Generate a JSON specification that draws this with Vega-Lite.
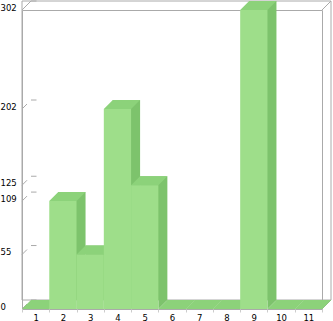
{
  "$schema": "https://vega.github.io/schema/vega-lite/v6.json",
  "width": 300,
  "height": 299,
  "autosize": {"type": "none"},
  "padding": {"left": 22, "top": 10, "right": 11, "bottom": 12},
  "background": "white",
  "config": {
    "view": {"stroke": "#aaaaaa", "strokeWidth": 1},
    "axis": {"labelFont": "DejaVu Sans", "labelFontSize": 8.5, "labelColor": "#000000", "title": null, "grid": false}
  },
  "data": {
    "values": [
      {"cat": 1, "value": 0},
      {"cat": 2, "value": 109},
      {"cat": 3, "value": 55},
      {"cat": 4, "value": 202},
      {"cat": 5, "value": 125},
      {"cat": 6, "value": 0},
      {"cat": 7, "value": 0},
      {"cat": 8, "value": 0},
      {"cat": 9, "value": 302},
      {"cat": 10, "value": 0},
      {"cat": 11, "value": 0}
    ]
  },
  "layer": [
    {
      "transform": [{"filter": "datum.cat == 1"}],
      "mark": {"type": "rect", "fillOpacity": 0, "stroke": "#aaaaaa", "strokeWidth": 1, "xOffset": 9, "x2Offset": 9, "yOffset": -9, "y2Offset": -9},
      "encoding": {
        "y": {"datum": 0, "type": "quantitative", "scale": {"domain": [0, 302], "nice": false, "zero": true},
          "axis": {"values": [0, 55, 109, 125, 202, 302], "ticks": false, "tickSize": 0, "domain": false, "labelAlign": "left", "labelPadding": 22, "labelBaseline": "alphabetic"}},
        "y2": {"datum": 302}
      }
    },
    {
      "transform": [{"filter": "datum.cat == 1"}],
      "mark": {"type": "point", "shape": "M0,0L1.8,-1.8", "size": 100, "filled": false, "stroke": "#aaaaaa", "strokeWidth": 1, "opacity": 1},
      "encoding": {
        "x": {"datum": 1, "type": "ordinal", "bandPosition": 0},
        "y": {"datum": 302, "type": "quantitative"}
      }
    },
    {
      "transform": [{"filter": "datum.cat == 1"}],
      "mark": {"type": "point", "shape": "M0,0L1.8,-1.8", "size": 100, "filled": false, "stroke": "#aaaaaa", "strokeWidth": 1, "opacity": 1},
      "encoding": {
        "x": {"datum": 11, "type": "ordinal", "bandPosition": 1},
        "y": {"datum": 302, "type": "quantitative"}
      }
    },
    {
      "transform": [{"filter": "datum.cat == 1"}],
      "mark": {"type": "point", "shape": "M0,0L1.8,-1.8", "size": 100, "filled": false, "stroke": "#aaaaaa", "strokeWidth": 1, "opacity": 1},
      "encoding": {
        "x": {"datum": 11, "type": "ordinal", "bandPosition": 1},
        "y": {"datum": 0, "type": "quantitative"}
      }
    },
    {
      "transform": [{"aggregate": [], "groupby": ["value"]}],
      "mark": {"type": "point", "shape": "M0,0L1,-1M1.8,-1.8L2.9,-1.8", "size": 100, "filled": false, "stroke": "#aaaaaa", "strokeWidth": 1, "opacity": 1},
      "encoding": {
        "x": {"datum": 1, "type": "ordinal", "bandPosition": 0},
        "y": {"field": "value", "type": "quantitative"}
      }
    },
    {
      "mark": {"type": "bar", "fill": "#7dc36c", "xOffset": 9, "yOffset": -9, "y2Offset": -9},
      "encoding": {
        "x": {"field": "cat", "type": "ordinal"},
        "y": {"field": "value", "type": "quantitative"}
      }
    },
    {
      "mark": {"type": "point", "shape": "M0,0L0,-1.8L1.8,-1.8Z", "size": 100, "filled": true, "fill": "#7dc36c", "strokeWidth": 0, "opacity": 1},
      "encoding": {
        "x": {"field": "cat", "type": "ordinal", "bandPosition": 1},
        "y": {"datum": 0, "type": "quantitative"}
      }
    },
    {
      "mark": {"type": "point", "shape": "M0,0L5.4545,0L7.2545,-1.8L1.8,-1.8Z", "size": 100, "filled": true, "fill": "#8cd27a", "strokeWidth": 0, "opacity": 1},
      "encoding": {
        "x": {"field": "cat", "type": "ordinal", "bandPosition": 0},
        "y": {"field": "value", "type": "quantitative"}
      }
    },
    {
      "mark": {"type": "bar", "fill": "#9ede8a"},
      "encoding": {
        "x": {"field": "cat", "type": "ordinal", "scale": {"domain": [1,2,3,4,5,6,7,8,9,10,11], "paddingInner": 0, "paddingOuter": 0},
          "axis": {"tickBand": "extent", "tickSize": 3, "tickColor": "#cccccc", "domain": false, "labelAngle": 0, "labelAlign": "center", "labelBaseline": "top", "labelPadding": 1}},
        "y": {"field": "value", "type": "quantitative"}
      }
    }
  ]
}
